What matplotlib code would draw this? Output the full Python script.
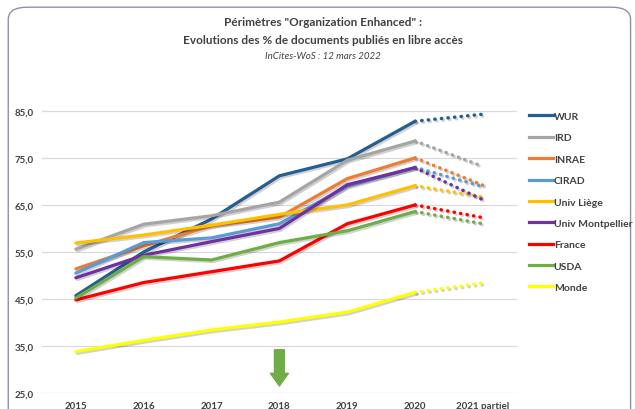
import matplotlib.pyplot as plt
import matplotlib.patheffects as pe
from matplotlib.patches import FancyBboxPatch
from matplotlib.lines import Line2D

years = ['2015', '2016', '2017', '2018', '2019', '2020', '2021 partiel']
names = ['WUR', 'IRD', 'INRAE', 'CIRAD', 'Univ Liège', 'Univ Montpellier',
         'France', 'USDA', 'Monde']
colors = ['#255E91', '#A5A5A5', '#ED7D31', '#5B9BD5', '#FFC000', '#7030A0',
          '#FF0000', '#70AD47', '#FFFF00']

wur = [45.7, 55.0, 62.0, 71.2, 74.8, 82.8, 84.3]
ird = [55.6, 60.9, 62.7, 65.6, 74.5, 78.6, 73.2]
inrae = [51.4, 56.3, 60.6, 62.4, 70.6, 75.0, 69.2]
cirad = [50.5, 57.0, 58.0, 61.0, 69.0, 73.0, 68.9]
liege = [56.9, 58.6, 60.7, 63.0, 65.0, 69.1, 66.7]
montpellier = [49.5, 54.3, 57.2, 60.0, 69.3, 72.9, 66.1]
france = [44.8, 48.5, 50.8, 53.1, 61.0, 65.0, 62.3]
usda = [45.2, 54.0, 53.3, 57.0, 59.5, 63.6, 61.0]
monde = [33.8, 36.2, 38.4, 40.1, 42.2, 46.4, 48.4]
series = [wur, ird, inrae, cirad, liege, montpellier, france, usda, monde]

plt.rcParams['font.family'] = ['Lato', 'DejaVu Sans']
txt = '#404040'

fig = plt.figure(figsize=(6.35, 4.10), dpi=100)
fig.patch.set_facecolor('white')

# rounded frame of the screenshot
frame = FancyBboxPatch((0.013, -0.05), 0.98, 1.03, boxstyle='round,pad=0,rounding_size=0.03',
                       transform=fig.transFigure, fill=False, edgecolor='#8a94a6', lw=1.0)
fig.patches.append(frame)

ax = fig.add_axes([0.066, 0.039, 0.748, 0.711])
x = list(range(len(years)))
shadow = [pe.SimpleLineShadow(offset=(1.2, -1.2), shadow_color='k', alpha=0.18), pe.Normal()]
for vals, c in zip(series, colors):
    ax.plot(x[:6], vals[:6], color=c, lw=2.3, solid_capstyle='round',
            solid_joinstyle='round', path_effects=shadow)
    ax.plot(x[5:], vals[5:], color=c, lw=2.5, linestyle=(0, (0.1, 1.8)),
            dash_capstyle='round', path_effects=shadow)

ax.set_xlim(-0.5, 6.5)
ax.set_ylim(25, 87)
ax.set_yticks([25, 35, 45, 55, 65, 75, 85])
ax.set_yticklabels([f'{v:.1f}'.replace('.', ',') for v in [25, 35, 45, 55, 65, 75, 85]])
ax.set_xticks(x)
ax.set_xticklabels(years)
ax.grid(axis='y', color='#d9d9d9', lw=0.9)
ax.set_axisbelow(True)
for s in ax.spines.values():
    s.set_visible(False)
ax.tick_params(length=0, colors=txt, labelsize=7)
ax.tick_params(axis='y', pad=6)
ax.tick_params(axis='x', pad=6)
for lab in ax.get_xticklabels() + ax.get_yticklabels():
    lab.set_fontweight('bold')

# green arrow at 2018
ax.annotate('', xy=(3, 26.5), xytext=(3, 34.2),
            arrowprops=dict(arrowstyle='simple,head_length=0.7,head_width=1.0,tail_width=0.55',
                            mutation_scale=13, color='#70AD47', shrinkA=0, shrinkB=0))

handles = [Line2D([0], [0], color=c, lw=2.3) for c in colors]
leg = fig.legend(handles, names, loc='upper left', bbox_to_anchor=(0.826, 0.735),
                 frameon=False, fontsize=7.5, handlelength=2.3, handletextpad=0.1,
                 labelspacing=1.16, borderaxespad=0)
for t in leg.get_texts():
    t.set_color(txt)
    t.set_fontweight('bold')

fig.text(0.508, 0.945, 'Périmètres "Organization Enhanced" :', ha='center', va='center',
         fontsize=8.5, fontweight='bold', color=txt)
fig.text(0.508, 0.902, 'Evolutions des % de documents publiés en libre accès', ha='center',
         va='center', fontsize=8.5, fontweight='bold', color=txt)
fig.text(0.508, 0.861, 'InCites-WoS : 12 mars 2022', ha='center', va='center',
         fontsize=7, style='italic', color=txt)

fig.savefig('out.png', dpi=100)
